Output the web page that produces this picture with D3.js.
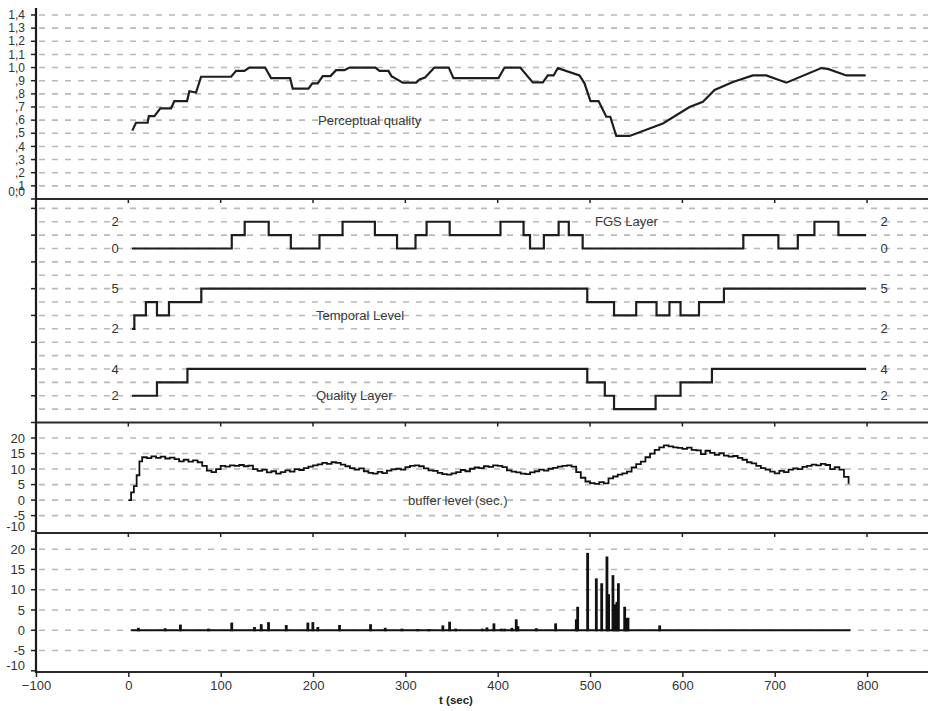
<!DOCTYPE html>
<html><head><meta charset="utf-8">
<script src="https://cdn.jsdelivr.net/npm/d3@7"></script>
<style>
body{margin:0;background:#fff}
text{font-family:Arial,"Liberation Sans",sans-serif}
</style></head>
<body><svg id="c" width="928" height="711"></svg>
<script>
// ---------- data ----------
const xTicks = [-100, 0, 100, 200, 300, 400, 500, 600, 700, 800];

// Perceptual quality (top panel)
const pqT = [4.3, 8.3, 20.9, 22.2, 28.2, 34.7, 46.3, 49.8, 63.6, 66.1, 73.3, 78.8, 111.3, 116.7, 125.7, 131.1, 148.1, 154.6, 175.2, 178, 195, 199.3, 205.1, 210.5, 218.9, 225, 234, 239.4, 267.6, 271.9, 281.7, 284.9, 297.2, 311.7, 315.3, 321.3, 331.5, 347, 352.1, 400.9, 407.4, 424.4, 438, 448.9, 454.3, 460.5, 465.1, 488.6, 494, 500.5, 509.2, 517.6, 521.9, 528.4, 542.8, 578.9, 607.8, 622.2, 634.9, 654.7, 676.4, 690.9, 712.6, 750.5, 757.6, 777.6, 798.5];
const pqV = [0.52, 0.58, 0.58, 0.63, 0.63, 0.69, 0.69, 0.745, 0.745, 0.82, 0.81, 0.93, 0.93, 0.975, 0.975, 1.0, 1.0, 0.92, 0.92, 0.84, 0.84, 0.88, 0.88, 0.935, 0.935, 0.98, 0.98, 1.0, 1.0, 0.975, 0.975, 0.935, 0.885, 0.885, 0.91, 0.925, 1.0, 1.0, 0.92, 0.92, 1.0, 1.0, 0.887, 0.887, 0.94, 0.94, 0.996, 0.94, 0.88, 0.745, 0.745, 0.626, 0.626, 0.48, 0.48, 0.575, 0.70, 0.74, 0.83, 0.89, 0.94, 0.94, 0.885, 0.996, 0.99, 0.94, 0.94];
const pqTicks = [0, 0.1, 0.2, 0.3, 0.4, 0.5, 0.6, 0.7, 0.8, 0.9, 1.0, 1.1, 1.2, 1.3, 1.4];
const pqLabels = ["0,0", ",1", ",2", ",3", ",4", ",5", ",6", ",7", ",8", ",9", "1,0", "1,1", "1,2", "1,3", "1,4"];

// Layers (middle panel), step series: value holds from t[i] to t[i+1]
const fgsT = [4, 112, 126, 152, 176, 207, 232, 267, 291, 311, 323, 348, 403, 428, 435, 450, 466, 477, 492, 666, 704, 725, 743, 769, 799];
const fgsV = [0, 1, 2, 1, 0, 1, 2, 1, 0, 1, 2, 1, 2, 1, 0, 1, 2, 1, 0, 1, 0, 1, 2, 1, 1];
const tempT = [4, 6.5, 19, 31, 44, 79, 497, 526, 550, 572, 586, 598, 618, 645, 799];
const tempV = [2, 3, 4, 3, 4, 5, 4, 3, 4, 3, 4, 3, 4, 5, 5];
const qlT = [4, 31, 64, 497, 516, 526, 571, 598, 632, 799];
const qlV = [2, 3, 4, 3, 2, 1, 2, 3, 4, 4];
const fgsLabels = [0, 2];
const tempLabels = [2, 5];
const qlLabels = [2, 4];

// Buffer level (third panel)
const bufT = [0, 3, 6, 9, 12,
  15, 20, 25, 30, 35, 40, 45, 50, 55, 60,
  65, 70, 75, 80, 85, 90, 95, 100, 105, 110,
  115, 120, 125, 130, 135, 140, 145, 150, 155, 160,
  165, 170, 175, 180, 185, 190, 195, 200, 205, 210,
  215, 220, 225, 230, 235, 240, 245, 250, 255, 260,
  265, 270, 275, 280, 285, 290, 295, 300, 305, 310,
  315, 320, 325, 330, 335, 340, 345, 350, 355, 360,
  365, 370, 375, 380, 385, 390, 395, 400, 405, 410,
  415, 420, 425, 430, 435, 440, 445, 450, 455, 460,
  465, 470, 475, 480, 485, 490, 495, 500, 505, 510,
  515, 520, 525, 530, 535, 540, 545, 550, 555, 560,
  565, 570, 575, 580, 585, 590, 595, 600, 605, 610,
  615, 620, 625, 630, 635, 640, 645, 650, 655, 660,
  665, 670, 675, 680, 685, 690, 695, 700, 705, 710,
  715, 720, 725, 730, 735, 740, 745, 750, 755, 760,
  765, 770, 775, 780];
const bufV = [0, 2.5, 4.5, 8, 12.5,
  13.8, 13.5, 14.1, 13.6, 14.0, 13.4, 13.7, 13.2, 12.5, 13.0,
  12.4, 12.8, 12.2, 11.0, 9.5, 9.0, 10.0, 11.0, 10.8, 11.2,
  11.0, 11.3, 10.9, 11.1, 10.0, 9.4, 9.8, 8.9, 9.3, 8.5,
  9.0, 9.6, 9.2, 10.0, 9.7, 10.3, 10.8, 11.2, 11.5, 12.0,
  11.7, 12.2, 12.0, 11.4, 10.9, 10.3, 9.8, 10.2, 9.3, 8.8,
  8.5, 9.1, 8.7, 9.5, 9.9, 10.1, 9.8, 10.6, 11.0, 11.2,
  10.9, 10.2, 9.6, 9.4, 8.8, 8.4, 8.2, 8.6, 9.0, 9.7,
  9.3, 10.1, 10.5, 10.3, 10.9, 10.7, 11.2, 11.0, 10.6, 9.6,
  9.2, 8.9, 8.5, 8.4, 8.9, 9.3, 9.8, 9.5, 10.1, 10.4,
  10.8, 11.0, 11.2, 10.8, 9.0, 7.2, 6.0, 5.5, 5.2, 5.8,
  5.4, 7.0, 7.6, 8.2, 8.6, 9.2, 10.5, 11.6, 12.4, 13.8,
  15.0, 16.2, 17.0, 17.6, 17.3, 17.0, 16.8, 16.5, 16.9, 16.2,
  16.0, 14.8, 15.9, 15.2, 14.6, 15.1, 14.3, 14.0, 14.2, 13.6,
  13.0, 12.2, 11.8, 11.0, 10.3, 9.8, 9.2, 8.6, 9.4, 9.0,
  9.8, 10.2, 10.0, 10.7, 11.0, 11.4, 11.2, 11.7, 11.3, 10.0,
  10.6, 9.8, 7.5, 5.3];
const bufTicks = [-10, -5, 0, 5, 10, 15, 20];

// Bottom panel spikes
const spikeT = [10.8, 39.8, 56.3, 86.7, 111.9, 136.5, 143.8, 151.7, 170.9, 194.3, 199.7, 205.1, 228.6, 262.2, 278.1, 296.1, 313.4, 325.4, 340.5, 347.8, 354.3, 383.2, 388.2, 395.8, 403.8, 407.4, 415.3, 420.0, 421.8, 441.7, 462.6, 485.0, 486.5, 497.3, 506.7, 512.5, 518.2, 520.0, 524.7, 526.9, 529.0, 530.6, 537.4, 539.2, 541.0, 575.3];
const spikeV = [0.6, 0.5, 1.4, 0.4, 1.9, 0.8, 1.5, 2.0, 1.3, 1.9, 2.0, 0.8, 1.3, 1.5, 0.6, 0.4, 0.3, 0.3, 1.2, 2.1, 0.4, 0.4, 0.7, 1.7, 0.4, 0.4, 0.6, 2.7, 1.0, 0.5, 1.7, 2.7, 5.8, 19.1, 12.8, 11.6, 18.2, 8.9, 13.6, 6.4, 7.0, 11.6, 5.8, 3.0, 3.1, 1.2];
const spikeBaseline = [3, 782];
const spikeTicks = [-10, -5, 0, 5, 10, 15, 20];

// ---------- drawing ----------
const W = 928;
const svg = d3.select("#c");
const x = d3.scaleLinear().domain([-100, 866]).range([36, W]);
const X0 = x(-100);

const yPQ = d3.scaleLinear().domain([0, 1.4]).range([199, 15]);
const yMid = d3.scaleLinear().domain([0, 16.7]).range([422.5, 199]);
const yFgs = d3.scaleLinear().domain([0, 2]).range([yMid(13), yMid(15)]);
const yTemp = d3.scaleLinear().domain([2, 5]).range([yMid(7), yMid(10)]);
const yQL = d3.scaleLinear().domain([1, 4]).range([yMid(1), yMid(4)]);
const yBuf = d3.scaleLinear().domain([-10.6, 25]).range([533, 422.5]);
const ySp = d3.scaleLinear().domain([-10.3, 24]).range([672, 533]);

const gridCol = "#b9b9b9";
function grid(vals, sc) {
  svg.append("g").selectAll("line").data(vals).join("line")
    .attr("x1", X0 + 3).attr("x2", W)
    .attr("y1", d => sc(d)).attr("y2", d => sc(d))
    .attr("stroke", gridCol).attr("stroke-width", 1.6)
    .attr("stroke-dasharray", "6,7");
}
grid(pqTicks.filter(d => d > 0), yPQ);
grid(d3.range(1, 17), yMid);
grid(bufTicks.filter(d => d > -10), yBuf);
grid(spikeTicks.filter(d => d > -10), ySp);

// left axis tick marks + labels
function leftAxis(vals, labels, sc, bottom, fs) {
  const g = svg.append("g");
  g.selectAll("line").data(vals).join("line")
    .attr("x1", X0 - 5).attr("x2", X0)
    .attr("y1", d => sc(d)).attr("y2", d => sc(d))
    .attr("stroke", "#222").attr("stroke-width", 1.5);
  if (labels) g.selectAll("text").data(vals).join("text")
    .attr("x", X0 - 11).attr("y", d => Math.min(sc(d), bottom - 7))
    .attr("dy", "0.35em").attr("text-anchor", "end")
    .attr("font-size", fs).attr("fill", "#333")
    .text((d, i) => labels[i]);
}
leftAxis(pqTicks, pqLabels, yPQ, yPQ(0), 12);
leftAxis(d3.range(0, 17, 2), null, yMid, 0, 12);
leftAxis(bufTicks, bufTicks.map(String), yBuf, yBuf.range()[0], 13);
leftAxis(spikeTicks, spikeTicks.map(String), ySp, ySp.range()[0], 13);

// middle panel value labels (both sides)
const midLab = [];
fgsLabels.forEach(v => midLab.push({v, y: yFgs(v)}));
tempLabels.forEach(v => midLab.push({v, y: yTemp(v)}));
qlLabels.forEach(v => midLab.push({v, y: yQL(v)}));
[115, 884].forEach(px => {
  svg.append("g").selectAll("text").data(midLab).join("text")
    .attr("x", px).attr("y", d => d.y).attr("dy", "0.36em")
    .attr("text-anchor", "middle").attr("font-size", 13).attr("fill", "#333")
    .text(d => d.v);
});

// series labels
const serLab = [
  {t: "Perceptual quality", x: 318, y: yPQ(0.6)},
  {t: "FGS Layer", x: 595, y: yFgs(2)},
  {t: "Temporal Level", x: 316, y: yMid(8)},
  {t: "Quality Layer", x: 316, y: yQL(2)},
  {t: "buffer level (sec.)", x: 408, y: yBuf(0)}
];
svg.append("g").selectAll("text").data(serLab).join("text")
  .attr("x", d => d.x).attr("y", d => d.y).attr("dy", "0.35em")
  .attr("font-size", 13).attr("fill", "#3a3a3a").text(d => d.t);

// panel separators and axes
const seps = [yPQ(0), yMid(0), yBuf.range()[0], ySp.range()[0]];
svg.append("g").selectAll("line").data(seps).join("line")
  .attr("x1", X0).attr("x2", W).attr("y1", d => d).attr("y2", d => d)
  .attr("stroke", "#2a2a2a").attr("stroke-width", 2.2);
svg.append("line").attr("x1", X0).attr("x2", X0).attr("y1", 8).attr("y2", ySp.range()[0] + 1)
  .attr("stroke", "#1a1a1a").attr("stroke-width", 2.2);

// top ticks on panels 2-4
[yPQ(0), yMid(0), yBuf.range()[0]].forEach(yy => {
  svg.append("g").selectAll("line").data(xTicks).join("line")
    .attr("x1", d => x(d)).attr("x2", d => x(d))
    .attr("y1", yy).attr("y2", yy + 4)
    .attr("stroke", "#222").attr("stroke-width", 1.5);
});

// bottom x axis
const xAxis = d3.axisBottom(x).tickValues(xTicks).tickSize(5).tickPadding(4).tickFormat(d3.format("d"));
const gx = svg.append("g").attr("transform", `translate(0,${ySp.range()[0]})`).call(xAxis);
gx.select(".domain").remove();
gx.selectAll("line").attr("stroke", "#222").attr("stroke-width", 1.5);
gx.selectAll("text").attr("font-size", 13).attr("fill", "#333").attr("font-family", "Arial, 'Liberation Sans', sans-serif");
svg.append("text").attr("x", 456).attr("y", 704).attr("text-anchor", "middle")
  .attr("font-size", 11.5).attr("font-weight", "bold").attr("fill", "#222").text("t (sec)");

// lines
const lineCol = "#1e1e1e";
svg.append("path").datum(pqT.map((t, i) => [t, pqV[i]]))
  .attr("d", d3.line().x(d => x(d[0])).y(d => yPQ(d[1])))
  .attr("fill", "none").attr("stroke", lineCol).attr("stroke-width", 2.2);

function stepLine(T, V, sc) {
  svg.append("path").datum(T.map((t, i) => [t, V[i]]))
    .attr("d", d3.line().curve(d3.curveStepAfter).x(d => x(d[0])).y(d => sc(d[1])))
    .attr("fill", "none").attr("stroke", lineCol).attr("stroke-width", 2.2);
}
stepLine(fgsT, fgsV, yFgs);
stepLine(tempT, tempV, yTemp);
stepLine(qlT, qlV, yQL);

svg.append("path").datum(bufT.map((t, i) => [t, bufV[i]]))
  .attr("d", d3.line().curve(d3.curveStepAfter).x(d => x(d[0])).y(d => yBuf(d[1])))
  .attr("fill", "none").attr("stroke", "#111").attr("stroke-width", 1.8);

// spikes
svg.append("line").attr("x1", x(spikeBaseline[0])).attr("x2", x(spikeBaseline[1]))
  .attr("y1", ySp(0)).attr("y2", ySp(0)).attr("stroke", "#111").attr("stroke-width", 2);
svg.append("g").selectAll("rect").data(spikeT.map((t, i) => [t, spikeV[i]])).join("rect")
  .attr("x", d => x(d[0]) - 1.3).attr("width", 2.8)
  .attr("y", d => ySp(d[1])).attr("height", d => ySp(0) - ySp(d[1]) + 1)
  .attr("fill", "#111");
</script></body></html>
